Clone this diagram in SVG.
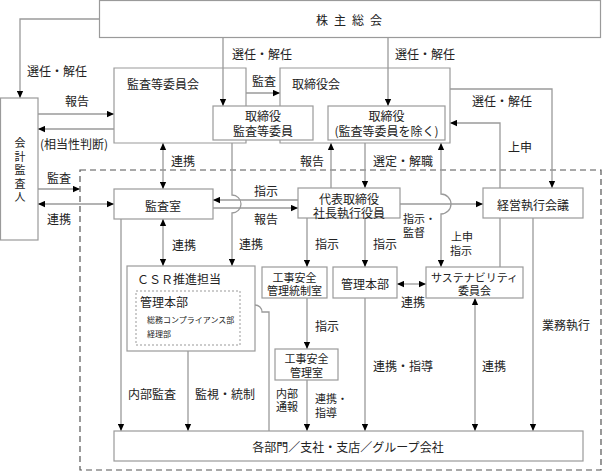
<svg xmlns="http://www.w3.org/2000/svg" width="602" height="473" viewBox="0 0 602 473">
<style>
.b{fill:#fff;stroke:#9a9a9a;stroke-width:1.2}
.o{fill:none;stroke:#9a9a9a;stroke-width:1.2}
.l{fill:none;stroke:#9a9a9a;stroke-width:1.3}
.t{font-family:"Noto Sans CJK JP","Noto Sans CJK SC",sans-serif;font-size:12px;fill:#222;dominant-baseline:central}
.m{text-anchor:middle}
.n{font-size:11px}
.s{font-size:8px}
</style>
<defs>
<marker id="a" viewBox="0 0 10 10" refX="10" refY="5" markerWidth="7" markerHeight="7" markerUnits="userSpaceOnUse" orient="auto-start-reverse">
<path d="M0,0.5 L10,5 L0,9.5 z" fill="#000"/>
</marker>
</defs>
<rect x="80" y="170" width="521" height="300" fill="none" stroke="#555" stroke-width="1.2" stroke-dasharray="6,4"/>
<g id="connectors">
<path class="l" d="M99,19 H20 V98" marker-end="url(#a)"/>
<path class="l" d="M223,38 V106" marker-end="url(#a)"/>
<path class="l" d="M388,38 V106" marker-end="url(#a)"/>
<path class="l" d="M38,114 H114" marker-end="url(#a)"/>
<path class="l" d="M114,129 H38" marker-end="url(#a)"/>
<path class="l" d="M246,93 H280" marker-end="url(#a)"/>
<path class="l" d="M450,89 H552 V188" marker-end="url(#a)"/>
<path class="l" d="M500,188 V123 H450" marker-end="url(#a)"/>
<path class="l" d="M163,143 V189" marker-start="url(#a)" marker-end="url(#a)"/>
<path class="l" d="M38,189 H80" marker-end="url(#a)"/>
<path class="l" d="M38,204 H114" marker-start="url(#a)" marker-end="url(#a)"/>
<path class="l" d="M365,143 V188" marker-end="url(#a)"/>
<path class="l" d="M331,188 V143" marker-end="url(#a)"/>
<path class="l" d="M298,200 H213" marker-end="url(#a)"/>
<path class="l" d="M213,208 H298" marker-end="url(#a)"/>
<path class="l" d="M232,143 V195 A9,9 0 0 1 232,213 V266" marker-end="url(#a)"/>
<path class="l" d="M400,204 H483" marker-end="url(#a)"/>
<path class="l" d="M441,143 V194 A10,10 0 0 1 441,214 V267" marker-start="url(#a)" marker-end="url(#a)"/>
<path class="l" d="M307,218 V267" marker-end="url(#a)"/>
<path class="l" d="M365,218 V267" marker-end="url(#a)"/>
<path class="l" d="M163,219 V266" marker-start="url(#a)" marker-end="url(#a)"/>
<path class="l" d="M397,284 H426" marker-start="url(#a)" marker-end="url(#a)"/>
<path class="l" d="M500,218 V267"/>
<path class="l" d="M533,218 V431" marker-end="url(#a)"/>
<path class="l" d="M307,298 V349" marker-end="url(#a)"/>
<path class="l" d="M307,380 V431" marker-end="url(#a)"/>
<path class="l" d="M365,298 V431" marker-end="url(#a)"/>
<path class="l" d="M475,298 V431" marker-start="url(#a)" marker-end="url(#a)"/>
<path class="l" d="M121,219 V431" marker-end="url(#a)"/>
<path class="l" d="M188,351 V431" marker-end="url(#a)"/>
<path class="l" d="M269,431 V312 H262 A7,7 0 0 0 248,312 H240" marker-end="url(#a)"/>
</g>
<g id="n-kabunushi"><rect class="b" x="99.5" y="0.5" width="501" height="37"/><text class="t" x="316" y="19" letter-spacing="6">株主総会</text></g>
<g id="n-kaikei"><rect class="b" x="0.5" y="98" width="37.5" height="142"/><text class="t n" x="20" y="137.5" letter-spacing="2.5" style="writing-mode:vertical-rl">会計監査人</text></g>
<g id="n-kansaiinkai"><path class="o" d="M246,106 V68 H114 V143 H246 V140"/><text class="t" x="127" y="83">監査等委員会</text></g>
<g id="n-torishimariyakukai"><path class="o" d="M280,106 V68 H450 V143 H280 V140"/><text class="t" x="292" y="83">取締役会</text></g>
<g id="n-torikansa"><rect class="b" x="213" y="106" width="100" height="34"/><text class="t m" x="263" y="115">取締役<tspan x="263" dy="15">監査等委員</tspan></text></g>
<g id="n-torinozoku"><rect class="b" x="328" y="106" width="117" height="34"/><text class="t m" x="386.5" y="115">取締役<tspan x="386.5" dy="15">(監査等委員を除く)</tspan></text></g>
<g id="n-kansashitsu"><rect class="b" x="114" y="189" width="99" height="30"/><text class="t m" x="163" y="205">監査室</text></g>
<g id="n-daihyo"><rect class="b" x="298" y="188" width="102" height="30"/><text class="t m" x="349" y="198">代表取締役<tspan x="349" dy="14">社長執行役員</tspan></text></g>
<g id="n-keiei"><rect class="b" x="483" y="188" width="100" height="30"/><text class="t m" x="533" y="204">経営執行会議</text></g>
<g id="n-csr"><rect class="b" x="127" y="266" width="128" height="85"/><text class="t" x="137" y="278">ＣＳＲ推進担当</text>
<rect x="136" y="291" width="104" height="54" fill="none" stroke="#999" stroke-width="1" stroke-dasharray="2,2"/>
<text class="t" x="140" y="301">管理本部</text><text class="t s" x="147" y="319">総務コンプライアンス部<tspan x="147" dy="14">経理部</tspan></text></g>
<g id="n-kojitosei"><rect class="b" x="262" y="267" width="65" height="31"/><text class="t m n" x="294.5" y="276.5">工事安全<tspan x="294.5" dy="13.5">管理統制室</tspan></text></g>
<g id="n-kanri"><rect class="b" x="333" y="267" width="64" height="31"/><text class="t m" x="365" y="283">管理本部</text></g>
<g id="n-sustain"><rect class="b" x="426" y="267" width="97" height="31"/><text class="t m n" x="474.5" y="276.5">サステナビリティ<tspan x="474.5" dy="13.5">委員会</tspan></text></g>
<g id="n-kojikanri"><rect class="b" x="275" y="349" width="63" height="31"/><text class="t m n" x="306.5" y="358">工事安全<tspan x="306.5" dy="13.5">管理室</tspan></text></g>
<g id="n-kakubumon"><rect class="b" x="114" y="431" width="469" height="30"/><text class="t m" x="348" y="446">各部門／支社・支店／グループ会社</text></g>
<g id="labels">
<text class="t" x="27" y="70">選任・解任</text>
<text class="t" x="65" y="100">報告</text>
<text class="t" x="40" y="143">(相当性判断)</text>
<text class="t" x="232" y="53">選任・解任</text>
<text class="t" x="252" y="80">監査</text>
<text class="t" x="395" y="53">選任・解任</text>
<text class="t" x="472" y="100">選任・解任</text>
<text class="t" x="508" y="146">上申</text>
<text class="t" x="171" y="160">連携</text>
<text class="t" x="300" y="160">報告</text>
<text class="t" x="373" y="160">選定・解職</text>
<text class="t" x="47" y="177">監査</text>
<text class="t" x="47" y="218">連携</text>
<text class="t" x="254" y="190">指示</text>
<text class="t" x="254" y="218">報告</text>
<text class="t n" x="403" y="218">指示・<tspan x="403" dy="14">監督</tspan></text>
<text class="t n" x="451" y="236">上申<tspan x="450" dy="14">指示</tspan></text>
<text class="t" x="172" y="244">連携</text>
<text class="t" x="239" y="243">連携</text>
<text class="t" x="315" y="243">指示</text>
<text class="t" x="373" y="243">指示</text>
<text class="t" x="401" y="301">連携</text>
<text class="t" x="315" y="325">指示</text>
<text class="t" x="542" y="324">業務執行</text>
<text class="t" x="373" y="365">連携・指導</text>
<text class="t" x="482" y="365">連携</text>
<text class="t" x="128" y="393">内部監査</text>
<text class="t" x="195" y="393">監視・統制</text>
<text class="t n" x="276" y="392.5">内部<tspan x="276" dy="13.5">通報</tspan></text>
<text class="t n" x="315" y="398">連携・<tspan x="315" dy="14">指導</tspan></text>
</g>
</svg>
